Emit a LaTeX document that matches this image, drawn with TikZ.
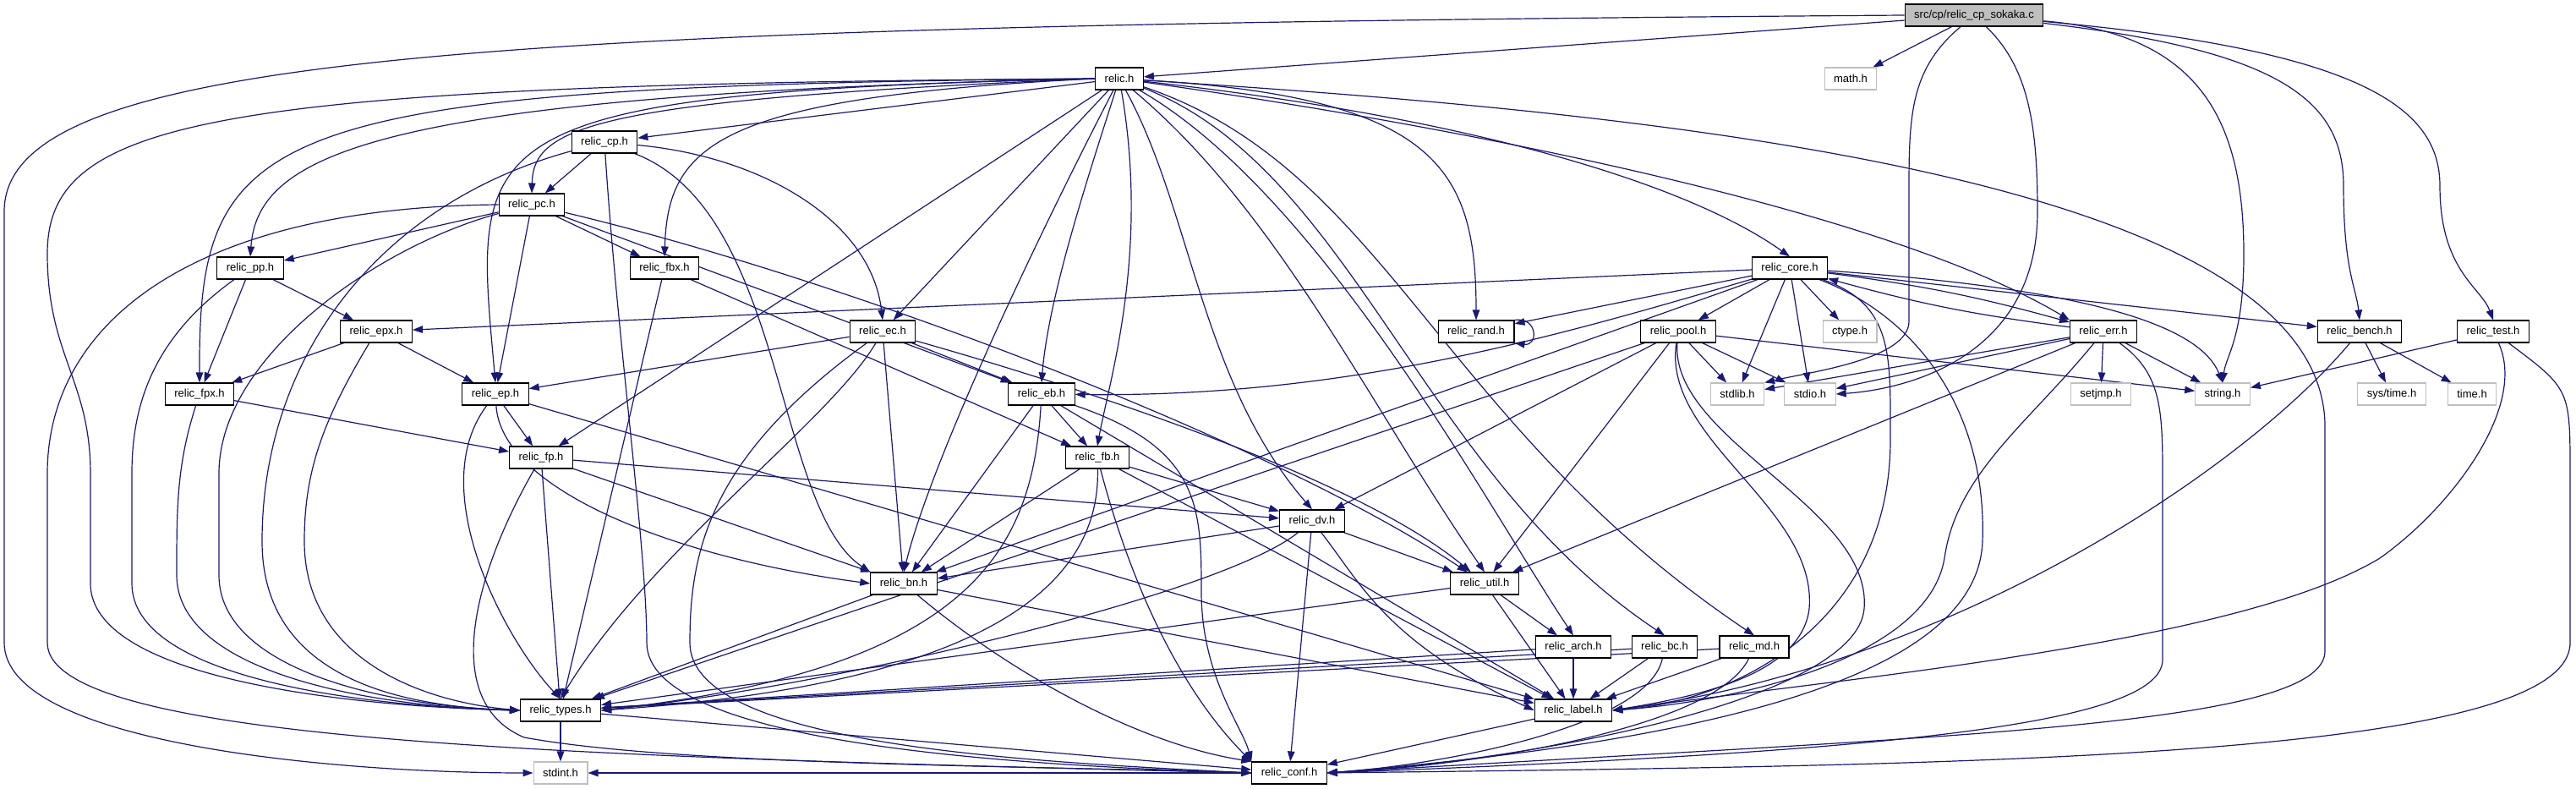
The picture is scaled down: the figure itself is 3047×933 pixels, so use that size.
\documentclass[tikz,border=0pt]{standalone}
\usepackage{fontspec}
\setmainfont{Liberation Sans}
\usepackage{tikz}
\usetikzlibrary{arrows.meta,backgrounds}
\definecolor{edgeblue}{RGB}{25,25,112}
\definecolor{sysgray}{RGB}{191,191,191}

\begin{document}
\begin{tikzpicture}[x=1pt, y=-1pt,
    box/.style={rectangle, draw=black, fill=white, line width=1.1pt,
                minimum height=26pt, inner xsep=11pt, inner ysep=0pt,
                font=\fontsize{13}{15}\selectfont},
    sysbox/.style={box, draw=sysgray},
    srcbox/.style={box, fill=sysgray},
    arr/.style={-{Triangle[length=12pt, width=8.5pt]}, draw=edgeblue, line width=1.2pt}]
\useasboundingbox (0,0) rectangle (3047,933);
\node[srcbox] (src) at (2335,18) {src/cp/relic\_cp\_sokaka.c};
\node[box] (relich) at (1324,93) {relic.h};
\node[sysbox] (math) at (2189,93) {math.h};
\node[box] (cp) at (715,168) {relic\_cp.h};
\node[box] (pc) at (629,242) {relic\_pc.h};
\node[box] (pp) at (296,317) {relic\_pp.h};
\node[box] (fbx) at (786,317) {relic\_fbx.h};
\node[box] (core) at (2117,317) {relic\_core.h};
\node[box] (epx) at (445,392) {relic\_epx.h};
\node[box] (ec) at (1044,392) {relic\_ec.h};
\node[box] (rand) at (1746,392) {relic\_rand.h};
\node[box] (pool) at (1985,392) {relic\_pool.h};
\node[sysbox] (ctype) at (2188,392) {ctype.h};
\node[box] (err) at (2488,392) {relic\_err.h};
\node[box] (bench) at (2791,392) {relic\_bench.h};
\node[box] (test) at (2949,392) {relic\_test.h};
\node[box] (fpx) at (236,466) {relic\_fpx.h};
\node[box] (ep) at (586,466) {relic\_ep.h};
\node[box] (eb) at (1232,466) {relic\_eb.h};
\node[sysbox] (stdlib) at (2055,466) {stdlib.h};
\node[sysbox] (stdio) at (2141,466) {stdio.h};
\node[sysbox] (setjmp) at (2485,466) {setjmp.h};
\node[sysbox] (string) at (2629,466) {string.h};
\node[sysbox] (systime) at (2829,466) {sys/time.h};
\node[sysbox] (time) at (2924,466) {time.h};
\node[box] (fp) at (640,541) {relic\_fp.h};
\node[box] (fb) at (1298,541) {relic\_fb.h};
\node[box] (dv) at (1552,616) {relic\_dv.h};
\node[box] (bn) at (1069,690) {relic\_bn.h};
\node[box] (util) at (1756,690) {relic\_util.h};
\node[box] (arch) at (1861,765) {relic\_arch.h};
\node[box] (bc) at (1969,765) {relic\_bc.h};
\node[box] (md) at (2075,765) {relic\_md.h};
\node[box] (types) at (663,840) {relic\_types.h};
\node[box] (label) at (1861,840) {relic\_label.h};
\node[sysbox] (stdint) at (663,914) {stdint.h};
\node[box] (conf) at (1525,914) {relic\_conf.h};

\begin{scope}[on background layer]
% src
\draw[arr] (src) -- (relich);
\draw[arr] (src) -- (math);
\draw[arr] (src.west) .. controls (600,30) and (5,60) .. (5,250) -- (5,760) .. controls (5,880) and (400,914) .. (stdint.west);
\draw[arr] (src) .. controls (2262,80) and (2258,130) .. (2258,220) -- (2258,380) .. controls (2258,425) and (2140,440) .. (stdlib.north east);
\draw[arr] (src) .. controls (2400,80) and (2410,150) .. (2410,250) .. controls (2410,420) and (2260,460) .. (stdio.east);
\draw[arr] (src) .. controls (2600,40) and (2654,140) .. (2654,300) .. controls (2654,400) and (2633,420) .. (string.north);
\draw[arr] (src) .. controls (2700,60) and (2772,120) .. (2772,220) .. controls (2772,320) and (2787,340) .. (bench.north);
\draw[arr] (src) .. controls (2800,60) and (2886,130) .. (2886,220) .. controls (2886,320) and (2935,340) .. (test.north);
% relic.h
\draw[arr] (relich) -- (cp);
\draw[arr] (relich.west) .. controls (700,118) and (631,150) .. (pc.north);
\draw[arr] (relich.west) .. controls (450,112) and (305,180) .. (pp.north);
\draw[arr] (relich.west) .. controls (300,102) and (235,150) .. (fpx.north);
\draw[arr] (relich.west) .. controls (540,110) and (560,160) .. (ep.north);
\draw[arr] (relich.west) .. controls (850,115) and (790,170) .. (fbx.north);
\draw[arr] (relich.west) .. controls (250,100) and (56,140) .. (56,300) .. controls (56,420) and (107,450) .. (107,560) -- (107,690) .. controls (107,800) and (400,835) .. (types.west);
\draw[arr] (relich) -- (fp);
\draw[arr] (relich) -- (ec);
\draw[arr] (relich) .. controls (1290,200) and (1240,350) .. (eb.north);
\draw[arr] (relich) .. controls (1217,300) and (1100,550) .. (bn.north);
\draw[arr] (relich) .. controls (1360,300) and (1312,450) .. (fb.north);
\draw[arr] (relich) .. controls (1410,250) and (1420,450) .. (dv.north);
\draw[arr] (relich) .. controls (1512,250) and (1620,480) .. (util.north);
\draw[arr] (relich) .. controls (1563,230) and (1760,600) .. (arch.north);
\draw[arr] (relich) .. controls (1600,200) and (1680,560) .. (bc.north);
\draw[arr] (relich) .. controls (1640,200) and (1700,500) .. (md.north);
\draw[arr] (relich) .. controls (1700,115) and (1746,200) .. (rand.north);
\draw[arr] (relich) .. controls (1750,140) and (2000,220) .. (core.north);
\draw[arr] (relich) .. controls (1800,160) and (2250,260) .. (err.north west);
\draw[arr] (relich) .. controls (1900,130) and (2740,200) .. (2750,500) -- (2750,770) .. controls (2750,860) and (2300,870) .. (conf.east);
% relic_cp.h
\draw[arr] (cp) -- (pc);
\draw[arr] (cp) .. controls (900,185) and (1030,260) .. (ec.north);
\draw[arr] (cp) .. controls (930,250) and (915,600) .. (bn.north west);
\draw[arr] (cp) .. controls (450,240) and (310,420) .. (310,640) .. controls (310,790) and (450,835) .. (types.west);
\draw[arr] (cp) .. controls (730,400) and (765,650) .. (765,760) .. controls (765,880) and (1200,905) .. (conf.west);
% relic_pc.h
\draw[arr] (pc) -- (pp);
\draw[arr] (pc) -- (fbx);
\draw[arr] (pc) -- (ep);
\draw[arr] (pc) -- (eb);
\draw[arr] (pc) .. controls (1000,330) and (1500,520) .. (util);
\draw[arr] (pc) .. controls (450,290) and (259,420) .. (259,560) -- (259,680) .. controls (259,790) and (450,835) .. (types.west);
\draw[arr] (pc.west) .. controls (230,245) and (56,380) .. (56,560) -- (56,760) .. controls (56,880) and (700,895) .. (conf.west);
% relic_pp.h, relic_fbx.h, relic_epx.h, relic_fpx.h
\draw[arr] (pp) -- (fpx);
\draw[arr] (pp) -- (epx);
\draw[arr] (pp) .. controls (180,400) and (156,480) .. (156,560) -- (156,690) .. controls (156,800) and (420,835) .. (types.west);
\draw[arr] (fbx) -- (fb);
\draw[arr] (fbx) -- (types);
\draw[arr] (epx) -- (fpx);
\draw[arr] (epx) -- (ep);
\draw[arr] (epx) .. controls (380,500) and (360,560) .. (360,640) .. controls (360,780) and (500,830) .. (types.west);
\draw[arr] (fpx) -- (fp);
\draw[arr] (fpx) .. controls (209,550) and (209,600) .. (209,680) .. controls (209,790) and (420,835) .. (types.west);
% relic_ep.h, relic_fp.h
\draw[arr] (ep) -- (fp);
\draw[arr] (ep) .. controls (593,580) and (800,660) .. (bn.west);
\draw[arr] (ep) .. controls (500,580) and (600,760) .. (types.north);
\draw[arr] (ep) -- (label);
\draw[arr] (fp) -- (dv);
\draw[arr] (fp) -- (bn);
\draw[arr] (fp) -- (types);
\draw[arr] (fp) .. controls (560,680) and (520,830) .. (620,872) .. controls (800,905) and (1200,905) .. (conf.west);
% relic_ec.h
\draw[arr] (ec) -- (ep);
\draw[arr] (ec) -- (eb);
\draw[arr] (ec) -- (bn);
\draw[arr] (ec) .. controls (1250,450) and (1600,560) .. (util);
\draw[arr] (ec) .. controls (980,500) and (770,650) .. (types.north);
\draw[arr] (ec) .. controls (840,540) and (816,650) .. (816,760) .. controls (816,880) and (1200,900) .. (conf.west);
% relic_eb.h, relic_fb.h
\draw[arr] (eb) -- (fb);
\draw[arr] (eb) -- (bn);
\draw[arr] (eb) .. controls (1221,650) and (1150,790) .. (types.east);
\draw[arr] (eb) -- (label);
\draw[arr] (eb) .. controls (1420,530) and (1421,600) .. (1421,700) .. controls (1421,800) and (1470,860) .. (conf.north west);
\draw[arr] (fb) -- (dv);
\draw[arr] (fb) -- (bn);
\draw[arr] (fb) .. controls (1302,700) and (1150,810) .. (types.east);
\draw[arr] (fb) -- (label);
\draw[arr] (fb) .. controls (1340,700) and (1400,820) .. (conf.north west);
% relic_dv.h, relic_bn.h, relic_util.h
\draw[arr] (dv) -- (bn);
\draw[arr] (dv) -- (util);
\draw[arr] (dv) .. controls (1450,700) and (1000,810) .. (types.east);
\draw[arr] (dv) .. controls (1610,690) and (1640,760) .. (label.west);
\draw[arr] (dv) -- (conf);
\draw[arr] (bn) -- (types);
\draw[arr] (bn) -- (label);
\draw[arr] (bn) .. controls (1200,800) and (1350,880) .. (conf.north west);
\draw[arr] (util) -- (arch);
\draw[arr] (util) -- (label);
\draw[arr] (util) -- (types);
% relic_arch.h, relic_bc.h, relic_md.h
\draw[arr] (arch) -- (label);
\draw[arr] (arch) -- (types);
\draw[arr] (bc) -- (label);
\draw[arr] (bc) -- (types);
\draw[arr] (bc) .. controls (1950,860) and (1700,905) .. (conf.east);
\draw[arr] (md) -- (label);
\draw[arr] (md) -- (types);
\draw[arr] (md) .. controls (2030,860) and (1750,905) .. (conf.east);
% relic_pool.h
\draw[arr] (pool) -- (stdlib);
\draw[arr] (pool) -- (stdio);
\draw[arr] (pool) -- (string);
\draw[arr] (pool) -- (dv);
\draw[arr] (pool) -- (util);
\draw[arr] (pool) -- (types);
\draw[arr] (pool) .. controls (1965,520) and (2150,600) .. (2140,720) .. controls (2130,800) and (2000,825) .. (label.east);
\draw[arr] (pool) .. controls (1975,520) and (2215,600) .. (2205,720) .. controls (2195,830) and (1800,900) .. (conf.east);
% relic_core.h
\draw[arr] (core) -- (epx);
\draw[arr] (core) .. controls (1850,395) and (1600,470) .. (eb);
\draw[arr] (core) -- (bn);
\draw[arr] (core) -- (rand);
\draw[arr] (core) -- (pool);
\draw[arr] (core) -- (ctype);
\draw[arr] (core) -- (stdlib);
\draw[arr] (core) -- (stdio);
\draw[arr] (core) to[bend left=4] (err);
\draw[arr] (core) .. controls (2450,340) and (2600,380) .. (string.north);
\draw[arr] (core) -- (bench);
\draw[arr] (core) .. controls (2240,360) and (2236,420) .. (2236,520) .. controls (2236,740) and (2050,830) .. (label.east);
\draw[arr] (core) .. controls (2280,380) and (2350,500) .. (2345,640) .. controls (2340,780) and (2100,870) .. (conf.east);
% relic_err.h
\draw[arr] (err) to[bend left=4] (core);
\draw[arr] (err) -- (stdlib);
\draw[arr] (err) -- (stdio);
\draw[arr] (err) -- (setjmp);
\draw[arr] (err) -- (string);
\draw[arr] (err) -- (util);
\draw[arr] (err) .. controls (2400,500) and (2314,560) .. (2300,660) .. controls (2280,780) and (2050,830) .. (label.east);
\draw[arr] (err) .. controls (2555,440) and (2558,480) .. (2558,560) -- (2558,780) .. controls (2558,860) and (2200,890) .. (conf.east);
% relic_rand.h, relic_bench.h, relic_test.h
\draw[arr] (rand.north east) .. controls +(28,-4) and +(28,4) .. (rand.south east);
\draw[arr] (bench) -- (systime);
\draw[arr] (bench) -- (time);
\draw[arr] (bench) .. controls (2650,560) and (2300,790) .. (label.east);
\draw[arr] (test) -- (string);
\draw[arr] (test) .. controls (2990,480) and (2900,600) .. (2815,660) .. controls (2650,760) and (2200,800) .. (label.east);
\draw[arr] (test) .. controls (3040,460) .. (3040,560) -- (3040,760) .. controls (3040,900) and (2300,905) .. (conf.east);
% relic_types.h, relic_label.h, relic_conf.h
\draw[arr] (types) -- (stdint);
\draw[arr] (types) -- (conf);
\draw[arr] (label) -- (conf);
\draw[arr] (conf) -- (stdint);
\end{scope}
\end{tikzpicture}
\end{document}
